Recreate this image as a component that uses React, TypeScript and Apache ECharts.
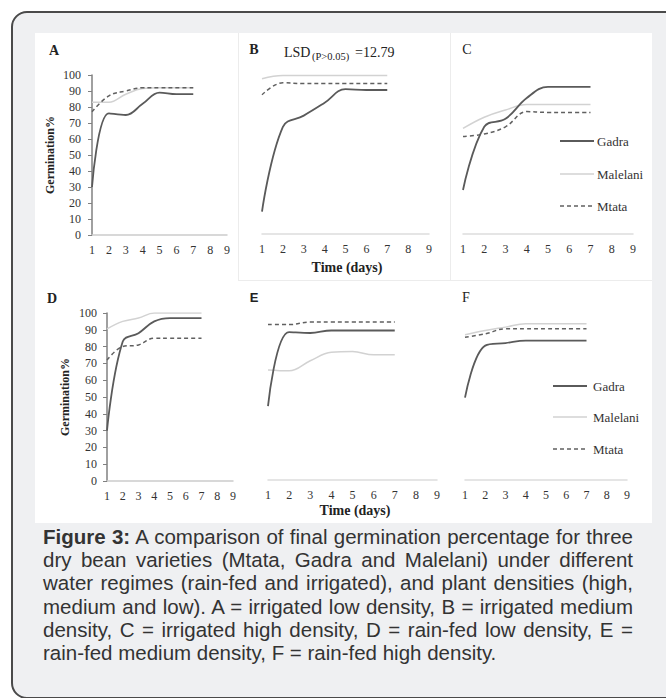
import React, { useEffect, useRef } from 'react';
import * as echarts from 'echarts';

// ---------- data ----------
const days = ['1', '2', '3', '4', '5', '6', '7', '8', '9'];
const varieties = ['Gadra', 'Malelani', 'Mtata'];
const panelLetters = ['A', 'B', 'C', 'D', 'E', 'F'];
const yMin = 0;
const yMax = 100;
const yInterval = 10;

// Germination % for days 1..7
const gadraA = [30, 76, 75, 82, 89, 88, 88];
const malelaniA = [83, 83, 88, 91.5, 92, 92, 92];
const mtataA = [77, 87, 90, 92, 92, 92, 92];

const gadraB = [14, 67, 74, 82, 90.5, 90, 90];
const malelaniB = [97, 99, 99, 99, 99, 99, 99];
const mtataB = [87, 94.5, 94, 94, 94, 94, 94];

const gadraC = [27.5, 67, 72, 85, 92, 92, 92];
const malelaniC = [66, 73, 77.5, 81, 81, 81, 81];
const mtataC = [61, 62.5, 67, 76.5, 76, 76, 76];

const gadraD = [30, 83, 88, 95, 97, 97, 97];
const malelaniD = [90.5, 95, 97, 100, 100, 100, 100];
const mtataD = [72, 80, 81, 85, 85, 85, 85];

const gadraE = [44, 88, 87.5, 89, 89, 89, 89];
const malelaniE = [65.5, 65, 71, 76, 76.5, 74.5, 74.5];
const mtataE = [92.5, 92.5, 94, 94, 94, 94, 94];

const gadraF = [49, 80, 81.5, 83, 83, 83, 83];
const malelaniF = [86.5, 89, 91, 93, 93, 93, 93];
const mtataF = [85, 87, 90, 90, 90, 90, 90];

const panelSeries = [
  [gadraA, malelaniA, mtataA],
  [gadraB, malelaniB, mtataB],
  [gadraC, malelaniC, mtataC],
  [gadraD, malelaniD, mtataD],
  [gadraE, malelaniE, mtataE],
  [gadraF, malelaniF, mtataF],
];

const yAxisTitle = 'Germination%';
const xAxisTitle = 'Time (days)';
const lsdMain = 'LSD';
const lsdSub = '(P>0.05)';
const lsdValue = '=12.79';

const captionBold = 'Figure 3:';
const captionLines = [
  ' A comparison of final germination percentage for three',
  'dry bean varieties (Mtata, Gadra and Malelani) under different',
  'water regimes (rain-fed and irrigated), and plant densities (high,',
  'medium and low). A = irrigated low density, B = irrigated medium',
  'density, C = irrigated high density, D = rain-fed low density, E =',
  'rain-fed medium density, F = rain-fed high density.',
];

// ---------- layout / style ----------
const SERIF = '"Liberation Serif", "Times New Roman", serif';
const SANS = '"Liberation Sans", Arial, sans-serif';

const grids = [
  { left: 92, top: 75, width: 135, height: 160 },
  { left: 262, top: 74, width: 167, height: 160 },
  { left: 463, top: 74, width: 170, height: 160 },
  { left: 107, top: 313, width: 126, height: 168 },
  { left: 268, top: 312, width: 169, height: 168 },
  { left: 465, top: 312, width: 162, height: 168 },
];
const showYAxis = [true, false, false, true, false, false];
const yLabelMargin = [11, 0, 0, 10, 0, 0];
const xAxisColor = ['#cccccc', '#dddddd', '#dddddd', '#cccccc', '#dddddd', '#dddddd'];

const letterPos = [
  { x: 54, y: 50, font: `bold 14px ${SERIF}` },
  { x: 254, y: 49, font: `bold 14px ${SERIF}` },
  { x: 467, y: 49, font: `14px ${SERIF}` },
  { x: 52, y: 298, font: `bold 14px ${SERIF}` },
  { x: 254, y: 297, font: `bold 13px ${SANS}` },
  { x: 466, y: 297, font: `14px ${SERIF}` },
];

const varietyStyle = [
  { color: '#5a5a5a', width: 1.8, type: 'solid' as any, z: 4 },
  { color: '#d2d2d2', width: 1.5, type: 'solid' as any, z: 2 },
  { color: '#606060', width: 1.5, type: [4, 3] as any, z: 3 },
];

const legendBoxes = [
  { x1: 560, x2: 594, tx: 597, ys: [141, 174, 206] },
  { x1: 553, x2: 587, tx: 593, ys: [386, 417, 449] },
];

function buildOption() {
  const xAxis: any[] = [];
  const yAxis: any[] = [];
  const series: any[] = [];
  grids.forEach((g, i) => {
    xAxis.push({
      gridIndex: i,
      type: 'category',
      data: days,
      boundaryGap: false,
      axisLine: { show: true, lineStyle: { color: xAxisColor[i], width: 1.5 } },
      axisTick: { show: false },
      axisLabel: {
        interval: 0,
        margin: 9,
        fontFamily: SERIF,
        fontSize: 12,
        color: '#333333',
      },
      splitLine: { show: false },
    });
    yAxis.push({
      gridIndex: i,
      type: 'value',
      min: yMin,
      max: yMax,
      interval: yInterval,
      show: showYAxis[i],
      name: showYAxis[i] ? yAxisTitle : '',
      nameLocation: 'middle',
      nameRotate: 90,
      nameGap: 36,
      nameTextStyle: {
        fontFamily: SERIF,
        fontWeight: 'bold',
        fontSize: 12,
        color: '#222222',
      },
      axisLine: { show: true, lineStyle: { color: '#808080', width: 1.5 } },
      axisTick: { show: true, length: 4, lineStyle: { color: '#808080', width: 1 } },
      axisLabel: {
        margin: yLabelMargin[i],
        fontFamily: SERIF,
        fontSize: 12,
        color: '#333333',
      },
      splitLine: { show: false },
    });
    panelSeries[i].forEach((vals, vi) => {
      const st = varietyStyle[vi];
      series.push({
        name: varieties[vi],
        type: 'line',
        xAxisIndex: i,
        yAxisIndex: i,
        data: vals,
        symbol: 'none',
        smooth: 0.4,
        z: st.z,
        lineStyle: { color: st.color, width: st.width, type: st.type },
      });
    });
  });

  const graphic: any[] = [];
  panelLetters.forEach((l, i) => {
    const p = letterPos[i];
    graphic.push({
      type: 'text',
      x: p.x,
      y: p.y,
      style: { text: l, font: p.font, fill: '#222222', align: 'center', verticalAlign: 'middle' },
    });
  });
  // LSD annotation
  graphic.push({
    type: 'text', x: 284, y: 52,
    style: { text: lsdMain, font: `14px ${SERIF}`, fill: '#222222', align: 'left', verticalAlign: 'middle' },
  });
  graphic.push({
    type: 'text', x: 312, y: 56,
    style: { text: lsdSub, font: `10.5px ${SERIF}`, fill: '#222222', align: 'left', verticalAlign: 'middle' },
  });
  graphic.push({
    type: 'text', x: 355, y: 52,
    style: { text: lsdValue, font: `14px ${SERIF}`, fill: '#222222', align: 'left', verticalAlign: 'middle' },
  });
  // x axis titles
  [
    { x: 347, y: 267 },
    { x: 355, y: 510 },
  ].forEach((p) => {
    graphic.push({
      type: 'text', x: p.x, y: p.y,
      style: { text: xAxisTitle, font: `bold 14px ${SERIF}`, fill: '#222222', align: 'center', verticalAlign: 'middle' },
    });
  });
  // legends
  legendBoxes.forEach((b) => {
    varieties.forEach((v, vi) => {
      const st = varietyStyle[vi];
      graphic.push({
        type: 'line',
        shape: { x1: b.x1, y1: b.ys[vi], x2: b.x2, y2: b.ys[vi] },
        style: {
          stroke: st.color,
          lineWidth: st.width,
          lineDash: Array.isArray(st.type) ? st.type : null,
        },
      });
      graphic.push({
        type: 'text', x: b.tx, y: b.ys[vi],
        style: { text: v, font: `13px ${SERIF}`, fill: '#333333', align: 'left', verticalAlign: 'middle' },
      });
    });
  });

  return {
    animation: false,
    grid: grids.map((g) => ({ ...g, containLabel: false })),
    xAxis,
    yAxis,
    series,
    graphic,
  };
}

function Chart() {
  const ref = useRef<HTMLDivElement>(null);
  useEffect(() => {
    if (!ref.current) return;
    const chart = echarts.init(ref.current, undefined, { renderer: 'svg' });
    chart.setOption(buildOption() as any);
    return () => chart.dispose();
  }, []);
  return (
    <div
      ref={ref}
      style={{ position: 'absolute', left: 0, top: 0, width: 666, height: 530 }}
    />
  );
}

export default function App() {
  return (
    <div
      style={{
        position: 'absolute',
        left: 0,
        top: 0,
        width: 666,
        height: 698,
        overflow: 'hidden',
        background: '#ffffff',
      }}
    >
      <div
        style={{
          position: 'absolute',
          left: 11,
          top: 11,
          width: 690,
          height: 688,
          boxSizing: 'border-box',
          border: '2px solid #4a4a4a',
          borderRadius: 16,
          background: '#eff0f2',
        }}
      />
      <div
        style={{
          position: 'absolute',
          left: 35,
          top: 33,
          width: 617,
          height: 490,
          background: '#ffffff',
        }}
      />
      {/* faint panel separators */}
      <div style={{ position: 'absolute', left: 238, top: 33, width: 1, height: 247, background: '#ececec' }} />
      <div style={{ position: 'absolute', left: 450, top: 33, width: 1, height: 247, background: '#ececec' }} />
      <div style={{ position: 'absolute', left: 238, top: 280, width: 414, height: 1, background: '#ececec' }} />
      <Chart />
      <div
        style={{
          position: 'absolute',
          left: 43,
          top: 525,
          width: 590,
          fontFamily: SANS,
          fontSize: 20.5,
          lineHeight: '23.2px',
          color: '#333333',
        }}
      >
        {captionLines.map((line, i) => (
          <div
            key={i}
            style={{
              textAlign: 'justify',
              textAlignLast: i === captionLines.length - 1 ? 'left' : 'justify',
              whiteSpace: 'nowrap',
            }}
          >
            {i === 0 ? <b>{captionBold}</b> : null}
            {line}
          </div>
        ))}
      </div>
    </div>
  );
}
